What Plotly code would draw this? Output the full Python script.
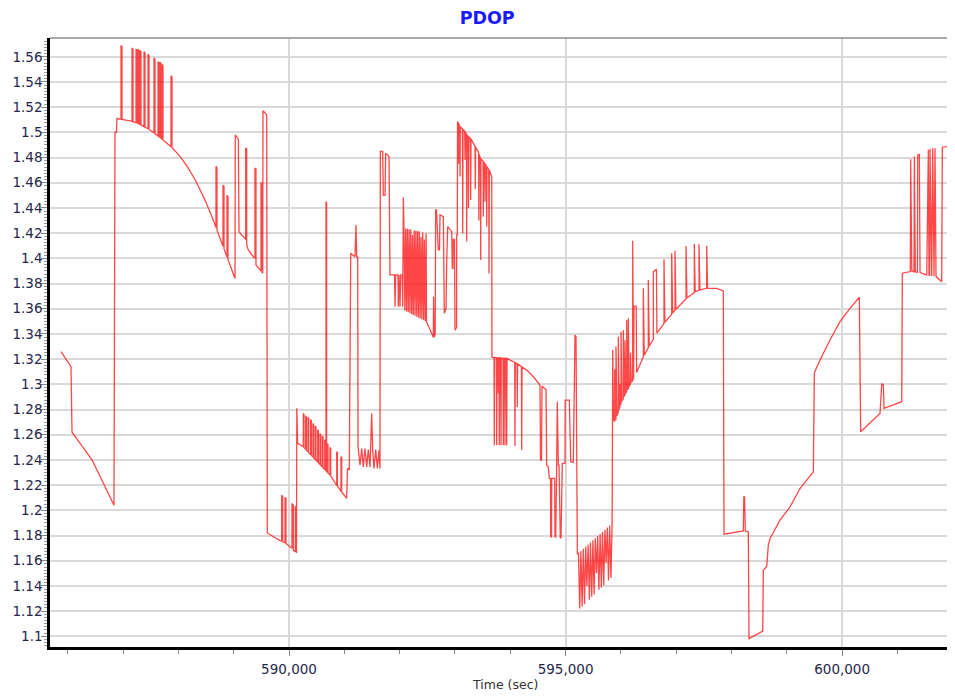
import plotly.graph_objects as go

# ---- data (time in seconds, PDOP) ----
seg_a_t = [585878, 586059, 586077, 586276, 586438, 586583, 586836, 586854, 586881, 586890]
seg_a_p = [1.326, 1.314, 1.262, 1.250, 1.240, 1.227, 1.204, 1.500, 1.500, 1.511]

seg_b_t = [586963, 586963, 586981, 586981,
           587162, 587162, 587180, 587180,
           587234, 587234, 587252, 587252,
           587270, 587270, 587288, 587288,
           587306, 587306, 587324, 587324,
           587379, 587379, 587397, 587397,
           587451, 587451, 587469, 587469,
           587559, 587559, 587577, 587577,
           587632, 587632, 587650, 587650,
           587668, 587668, 587686, 587686,
           587704, 587704, 587722, 587722,
           587867, 587867, 587885, 587885]
seg_b_p = [1.5105, 1.569, 1.568, 1.5103,
           1.5088, 1.567, 1.566, 1.5085,
           1.5078, 1.566, 1.5655, 1.5075,
           1.507, 1.566, 1.565, 1.5066,
           1.506, 1.565, 1.564, 1.5057,
           1.5045, 1.564, 1.563, 1.504,
           1.503, 1.562, 1.561, 1.5025,
           1.4995, 1.559, 1.558, 1.499,
           1.497, 1.556, 1.5555, 1.4965,
           1.4958, 1.5555, 1.555, 1.4952,
           1.4945, 1.554, 1.553, 1.494,
           1.4886, 1.545, 1.544, 1.488]

seg_c_t = [588029, 588174, 588319, 588463, 588608, 588680, 588680, 588698, 588698, 588753,
           588807, 588807, 588825, 588825, 588879, 588879, 588897, 588897, 589024, 589029,
           589084, 589096, 589174, 589217, 589217, 589235, 589235, 589264, 589355, 589385,
           589385, 589403, 589403, 589476, 589494, 589494, 589512, 589512, 589525, 589530,
           589597, 589608]
seg_c_p = [1.481, 1.472, 1.461, 1.448, 1.433, 1.4245, 1.473, 1.472, 1.4224, 1.416,
           1.4096, 1.458, 1.457, 1.4075, 1.401, 1.450, 1.449, 1.399, 1.384, 1.498,
           1.4946, 1.4212, 1.4172, 1.415, 1.4875, 1.487, 1.4106, 1.4067, 1.4013, 1.400,
           1.4716, 1.471, 1.3947, 1.3908, 1.390, 1.460, 1.459, 1.389, 1.3882, 1.5173,
           1.5139, 1.182]

seg_d_t = [589837, 589868, 589868, 589886, 589886, 589928, 589928, 589946, 589946, 590018,
           590054, 590054, 590078, 590078, 590114, 590114, 590136, 590136, 590141, 590157]
seg_d_p = [1.176, 1.1755, 1.212, 1.211, 1.175, 1.1742, 1.2102, 1.2095, 1.1737, 1.171,
           1.170, 1.2054, 1.204, 1.1684, 1.167, 1.2033, 1.2025, 1.1662, 1.281, 1.2531]

seg_e_t = [590259, 590259, 590271, 590271, 590302, 590302, 590315, 590315,
           590344, 590344, 590356, 590356, 590392, 590392, 590405, 590405,
           590434, 590434, 590447, 590447, 590476, 590476, 590488, 590488,
           590519, 590519, 590532, 590532, 590561, 590561, 590573, 590573,
           590602, 590602, 590615, 590615, 590646, 590646, 590658, 590658,
           590669, 590669, 590680, 590680, 590693, 590693, 590705, 590705,
           590741, 590741, 590754, 590754, 590863, 590863, 590875, 590875,
           590940, 590940, 590953, 590953, 591043, 591058, 591090, 591116,
           591193, 591211, 591224, 591242, 591248]
seg_e_p = [1.2504, 1.2769, 1.2760, 1.2498, 1.2484, 1.275, 1.274, 1.2478,
           1.2464, 1.274, 1.273, 1.2458, 1.2442, 1.272, 1.271, 1.2436,
           1.2422, 1.269, 1.268, 1.2416, 1.2403, 1.267, 1.266, 1.2397,
           1.2383, 1.264, 1.263, 1.2377, 1.2363, 1.261, 1.260, 1.2357,
           1.2344, 1.259, 1.258, 1.2338, 1.2324, 1.256, 1.255, 1.2318,
           1.2313, 1.445, 1.444, 1.2308, 1.2302, 1.253, 1.252, 1.2296,
           1.2279, 1.250, 1.249, 1.2273, 1.2197, 1.2464, 1.246, 1.2192,
           1.2152, 1.2425, 1.242, 1.2146, 1.2094, 1.2333, 1.232, 1.404,
           1.4013, 1.4265, 1.401, 1.401, 1.2504]

seg_f_t = [591284, 591315, 591343, 591374, 591405, 591434, 591465, 591495, 591513, 591537,
           591568, 591597, 591627, 591645, 591651, 591694, 591705, 591736, 591748, 591808,
           591826, 591908, 591917, 591929, 591971, 591976, 591989, 592007, 592020, 592049,
           592056, 592067]
seg_f_p = [1.2359, 1.2491, 1.2345, 1.2491, 1.2345, 1.2483, 1.2345, 1.2769, 1.2483, 1.2332,
           1.2483, 1.2332, 1.2478, 1.2332, 1.4848, 1.4848, 1.450, 1.450, 1.4835, 1.4808,
           1.3868, 1.3868, 1.3616, 1.3868, 1.3868, 1.3616, 1.3868, 1.3616, 1.3868, 1.3868,
           1.3616, 1.4485]

seg_g_t = [592079, 592095, 592110, 592125, 592141, 592156, 592172, 592187, 592202, 592218,
           592233, 592248, 592264, 592279, 592294, 592310, 592325, 592341, 592356, 592371,
           592387, 592402, 592417, 592433, 592448, 592464, 592479, 592486]
seg_g_p = [1.4240, 1.3586, 1.4237, 1.3579, 1.4234, 1.3572, 1.4231, 1.3565, 1.4228, 1.3558,
           1.4185, 1.3551, 1.4222, 1.3544, 1.4219, 1.3537, 1.4216, 1.3530, 1.4213, 1.3523,
           1.4170, 1.3516, 1.4206, 1.3509, 1.4150, 1.3502, 1.4200, 1.3497]

seg_h_t = [592609, 592614, 592625, 592643, 592652, 592667, 592699, 592721, 592730, 592790,
           592808, 592839, 592851, 592869, 592942, 592953, 592965, 592970, 592992, 593001,
           593029, 593032, 593043, 593047]
seg_h_p = [1.3373, 1.3696, 1.3373, 1.3400, 1.4384, 1.4384, 1.4067, 1.4067, 1.4345, 1.4331,
           1.3564, 1.3600, 1.3974, 1.4252, 1.4212, 1.3920, 1.3920, 1.4150, 1.4150, 1.3430,
           1.3450, 1.4186, 1.4186, 1.5086]

seg_i_t = [593059, 593065, 593070,
           593086, 593092, 593097, 593135, 593141, 593146, 593177, 593182, 593188, 593208,
           593213, 593218, 593240, 593245, 593251, 593280, 593285, 593291, 593332, 593363,
           593368, 593374, 593417, 593428, 593433, 593439, 593461, 593466, 593471, 593508,
           593513, 593518, 593538, 593544, 593549, 593569, 593575, 593580, 593611, 593616,
           593622, 593665, 593669]
seg_i_p = [1.5075, 1.475, 1.507,
           1.505, 1.465, 1.5045, 1.5027, 1.420, 1.5022, 1.501, 1.478, 1.5005, 1.4985,
           1.4133, 1.498, 1.4968, 1.440, 1.4965, 1.4953, 1.4464, 1.4948, 1.4915, 1.489,
           1.455, 1.4885, 1.485, 1.4838, 1.430, 1.4825, 1.4793, 1.3987, 1.479, 1.4772,
           1.4331, 1.4768, 1.4752, 1.445, 1.4748, 1.4734, 1.4252, 1.4727, 1.4705, 1.388,
           1.470, 1.4649, 1.3214]

seg_j_t = [593707, 593712, 593717, 593750, 593755, 593761, 593779, 593784, 593790, 593797,
           593802, 593808, 593827, 593833, 593838, 593869, 593875, 593880, 593900, 593905,
           593911, 593931, 593936, 593942, 594081, 594086, 594092, 594122, 594128, 594133,
           594202, 594207, 594213, 594298, 594417, 594538]
seg_j_p = [1.3214, 1.2517, 1.3213, 1.3212, 1.2517, 1.3212, 1.3211, 1.2928, 1.3211, 1.3211,
           1.2517, 1.321, 1.321, 1.2517, 1.321, 1.3209, 1.2517, 1.3208, 1.3207, 1.2517,
           1.3207, 1.3206, 1.2517, 1.3205, 1.3174, 1.251, 1.3172, 1.3166, 1.282, 1.3164,
           1.314, 1.2478, 1.3138, 1.3113, 1.306, 1.2994]

seg_k_t = [594547, 594565, 594574, 594647, 594659, 594688, 594706, 594728, 594732, 594746,
           594750, 594804, 594809, 594822, 594837, 594851, 594869, 594882, 594905, 594918,
           594941, 594990, 594994, 595068, 595093, 595140, 595171, 595189, 595213]
seg_k_p = [1.2398, 1.2398, 1.2985, 1.2958, 1.2358, 1.2345, 1.2253, 1.2253, 1.179, 1.179,
           1.2253, 1.2253, 1.179, 1.179, 1.2253, 1.2861, 1.2358, 1.2358, 1.1782, 1.1782,
           1.2372, 1.2372, 1.2875, 1.2875, 1.2385, 1.238, 1.3391, 1.338, 1.1657]

seg_l_t = [595234, 595256, 595278, 595299, 595321, 595343, 595365, 595386, 595408, 595430,
           595451, 595473, 595495, 595516, 595538, 595560, 595581, 595603, 595625, 595647,
           595668, 595690, 595712, 595733, 595755, 595777, 595798, 595820, 595842, 595853,
           595867]
seg_l_p = [1.1660, 1.1220, 1.1677, 1.1237, 1.1694, 1.1255, 1.1711, 1.1400, 1.1728, 1.1290,
           1.1745, 1.1313, 1.1762, 1.1332, 1.1778, 1.1500, 1.1795, 1.1369, 1.1812, 1.1387,
           1.1829, 1.1406, 1.1846, 1.1580, 1.1863, 1.1443, 1.1880, 1.1462, 1.1897, 1.3272,
           1.2716]

seg_m_t = [595889, 595889, 595901,
           595912, 595912, 595929, 595954, 595954, 595970,
           595983, 595983, 595995,
           596003, 596003, 596019, 596044, 596044, 596060,
           596075, 596075, 596090,
           596106, 596106, 596122, 596135, 596135, 596151,
           596174, 596174, 596189,
           596214, 596214, 596230, 596238, 596277, 596286, 596406, 596406, 596422, 596496,
           596496, 596513, 596587, 596587, 596643, 596652, 596780, 596780, 596796, 596919,
           596919, 596936, 596979, 596979, 596995, 597178, 597178, 597194, 597328, 597328,
           597344, 597413, 597413, 597429, 597552, 597552, 597568, 597733, 597852]
seg_m_p = [1.2705, 1.312, 1.2720,
           1.2727, 1.330, 1.2750, 1.2782, 1.3378, 1.2802,
           1.2825, 1.300, 1.2838,
           1.2845, 1.3418, 1.2865, 1.2888, 1.3431, 1.2903,
           1.2916, 1.335, 1.2929,
           1.2943, 1.3511, 1.2957, 1.2968, 1.3524, 1.2980,
           1.3005, 1.325, 1.3016,
           1.3028, 1.414, 1.3040, 1.3622, 1.362, 1.3093, 1.3219, 1.3762, 1.3232, 1.3290,
           1.3828, 1.3302, 1.3358, 1.3894, 1.3913, 1.3406, 1.3482, 1.3993, 1.3492, 1.3557,
           1.404, 1.3566, 1.3588, 1.4061, 1.3596, 1.3677, 1.4098, 1.3685, 1.3729, 1.4114,
           1.3735, 1.3747, 1.4112, 1.3749, 1.3762, 1.410, 1.3762, 1.3762, 1.3741]

seg_n_t = [597865, 598214, 598223, 598236, 598250, 598304, 598317, 598565, 598575, 598637,
           598666, 598697, 598877, 599058, 599239, 599480, 599498, 599601, 599781, 599962,
           600143, 600311, 600336, 600685, 600716, 600745, 600758, 601078, 601089]
seg_n_p = [1.1810, 1.1837, 1.2107, 1.2107, 1.1835, 1.1829, 1.0982, 1.1042, 1.1524, 1.1556,
           1.1723, 1.1776, 1.1922, 1.2027, 1.2173, 1.2305, 1.3092, 1.3193, 1.3352, 1.3497,
           1.3603, 1.3691, 1.2623, 1.2769, 1.3002, 1.2998, 1.2809, 1.2862, 1.3882]

seg_o_t = [601233, 601240, 601260, 601300, 601306, 601324, 601362, 601367, 601396, 601409,
           601530, 601559, 601571, 601584, 601589, 601620, 601638, 601662, 601680, 601698,
           601801, 601812, 601920, 602000, 602011, 602060]
seg_o_p = [1.3895, 1.4787, 1.3900, 1.3893, 1.4808, 1.3892, 1.3890, 1.4821, 1.4825, 1.3887,
           1.3868, 1.4861, 1.3866, 1.3865, 1.4869, 1.3860, 1.4874, 1.3857, 1.4874, 1.3855,
           1.3815, 1.4882, 1.4888, 1.4861, 1.3723, 1.3720]

x_tick_vals = [590000, 595000, 600000]
x_tick_text = ["590,000", "595,000", "600,000"]
y_tick_vals = [1.10, 1.12, 1.14, 1.16, 1.18, 1.20, 1.22, 1.24, 1.26, 1.28, 1.30, 1.32,
               1.34, 1.36, 1.38, 1.40, 1.42, 1.44, 1.46, 1.48, 1.50, 1.52, 1.54, 1.56]
y_tick_text = ["1.1", "1.12", "1.14", "1.16", "1.18", "1.2", "1.22", "1.24", "1.26", "1.28",
               "1.3", "1.32", "1.34", "1.36", "1.38", "1.4", "1.42", "1.44", "1.46", "1.48",
               "1.5", "1.52", "1.54", "1.56"]

segments_t = [seg_a_t, seg_b_t, seg_c_t, seg_d_t, seg_e_t, seg_f_t, seg_g_t, seg_h_t,
              seg_i_t, seg_j_t, seg_k_t, seg_l_t, seg_m_t, seg_n_t, seg_o_t]
segments_p = [seg_a_p, seg_b_p, seg_c_p, seg_d_p, seg_e_p, seg_f_p, seg_g_p, seg_h_p,
              seg_i_p, seg_j_p, seg_k_p, seg_l_p, seg_m_p, seg_n_p, seg_o_p]

time_s = [v for s in segments_t for v in s]
pdop = [v for s in segments_p for v in s]

tick_font = dict(family="DejaVu Sans", size=13.5, color="#26264a")

fig = go.Figure()
fig.add_trace(go.Scatter(
    x=time_s, y=pdop, mode="lines",
    line=dict(color="rgba(255,0,0,0.72)", width=1.3, simplify=False),
    hoverinfo="skip", showlegend=False,
))

# the page body adds an 8px offset, so the figure is sized/margined to compensate
fig.update_layout(
    width=947, height=688,
    margin=dict(l=42, r=0, t=30, b=49),
    paper_bgcolor="white", plot_bgcolor="white",
    title=dict(text="<b>PDOP</b>", x=0.506, xanchor="center", y=0.9855, yanchor="middle",
               font=dict(family="DejaVu Sans", size=17.5, color="#1a1aff")),
    xaxis=dict(
        range=[585679, 602041], tickmode="array", tickvals=x_tick_vals, ticktext=x_tick_text,
        showgrid=True, gridcolor="#d9d9d9", gridwidth=1.5, zeroline=False,
        ticks="outside", ticklen=6, tickwidth=1, tickcolor="#888888",
        minor=dict(tickmode="linear", tick0=0, dtick=1000, ticks="outside", ticklen=4,
                   tickcolor="#888888", tickwidth=1, showgrid=False),
        showline=True, linecolor="black", linewidth=2.5,
        tickfont=tick_font, ticklabelstandoff=2,
    ),
    yaxis=dict(
        range=[1.0915, 1.5749], tickmode="array", tickvals=y_tick_vals, ticktext=y_tick_text,
        showgrid=True, gridcolor="#d9d9d9", gridwidth=1.5, zeroline=False,
        ticks="outside", ticklen=6, tickwidth=1, tickcolor="#888888",
        minor=dict(tickmode="linear", tick0=1.1, dtick=0.0025, ticks="outside", ticklen=3,
                   tickcolor="#999999", tickwidth=1, showgrid=False),
        showline=True, linecolor="black", linewidth=2.5,
        tickfont=tick_font, ticklabelstandoff=-4,
    ),
    shapes=[dict(type="line", xref="paper", yref="paper", x0=0, x1=1, y0=1, y1=1,
                 line=dict(color="#8c8c8c", width=1.5))],
    annotations=[dict(text="Time (sec)", xref="paper", yref="paper", x=0.503, y=-0.061,
                      xanchor="center", yanchor="middle", showarrow=False,
                      font=dict(family="DejaVu Sans", size=12.5, color="#333333"))],
)

fig.write_html("out.html")
